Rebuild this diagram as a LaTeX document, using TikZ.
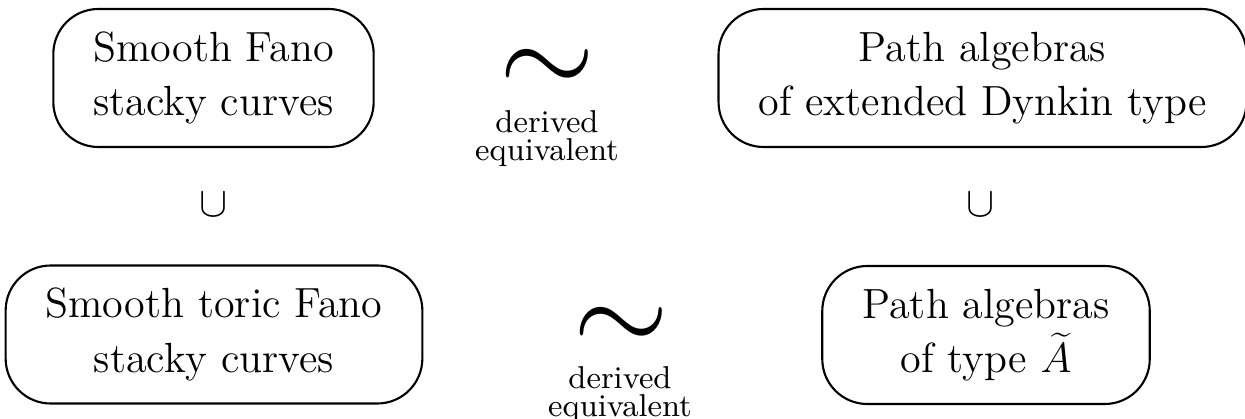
\documentclass[tikz,border=0pt]{standalone}
\usepackage{graphicx}
\tikzset{
	classbox/.style = {draw, semithick, rounded corners = 0.45cm, align = center,
		inner xsep = 0.4cm, minimum height = 1.38cm,
		font = \fontsize{12}{15.4}\selectfont},
	eqsign/.style = {inner sep = 0},
	eqlabel/.style = {align = center, inner sep = 0, font = \fontsize{9}{8}\selectfont}
}
\begin{document}
\begin{tikzpicture}
\useasboundingbox (0,0) rectangle (12.45,-4.19);
\node[classbox] (fano) at (2.135,-0.78) {Smooth Fano\\stacky curves};
\node[classbox] (dynkin) at (9.825,-0.78) {Path algebras\\of extended Dynkin type};
\node[classbox] (toric) at (2.14,-3.345) {Smooth toric Fano\\stacky curves};
\node[classbox] (atype) at (9.86,-3.35) {Path algebras\\of type $\widetilde{A}$};
\node[eqsign] (simtop) at (5.47,-0.72) {\scalebox{3.5}{$\sim$}};
\node[eqlabel] (dertop) at (5.47,-1.39) {derived\\equivalent};
\node[eqsign] (simbot) at (6.21,-3.30) {\scalebox{3.5}{$\sim$}};
\node[eqlabel] (derbot) at (6.20,-3.95) {derived\\equivalent};
\node (cupleft) at (2.14,-2.05) {\fontsize{12}{15.4}\selectfont$\cup$};
\node (cupright) at (9.81,-2.05) {\fontsize{12}{15.4}\selectfont$\cup$};
\end{tikzpicture}
\end{document}
